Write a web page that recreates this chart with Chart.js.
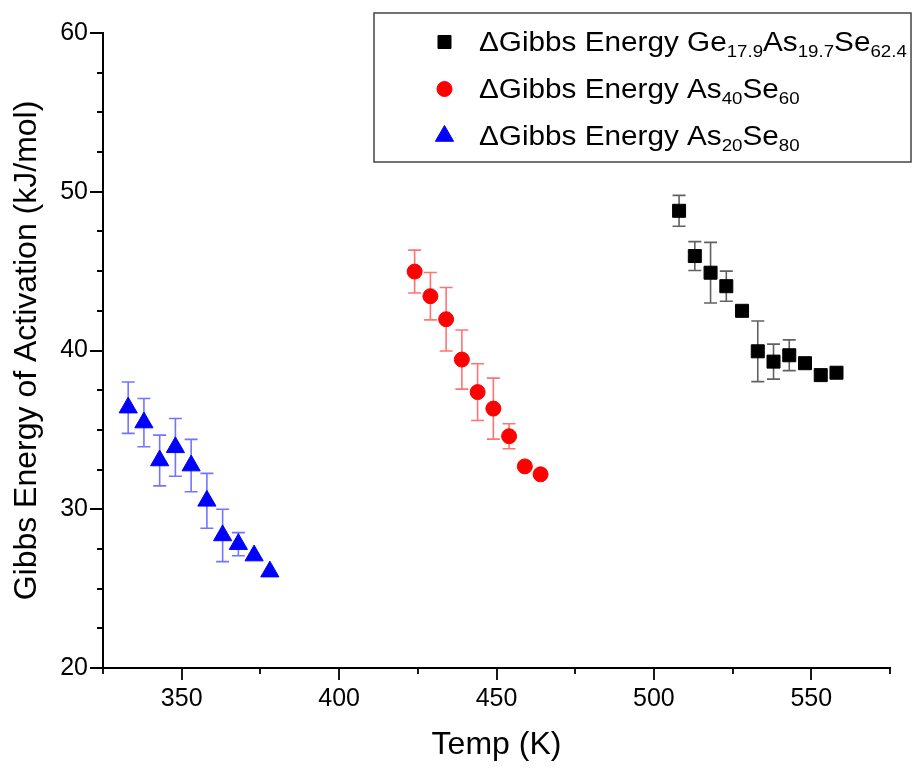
<!DOCTYPE html>
<html>
<head>
<meta charset="utf-8">
<script src="https://cdn.jsdelivr.net/npm/chart.js@4.4.1/dist/chart.umd.min.js"></script>
<style>
  html, body { margin: 0; padding: 0; background: #fff; }
  canvas { display: block; }
</style>
</head>
<body>
<canvas id="chart" width="915" height="769"></canvas>
<script>
// Temperatures (K), Gibbs energy of activation (kJ/mol) and its uncertainty for each glass
const tempsGe = [508, 513, 518, 523, 528, 533, 538, 543, 548, 553, 558];
const gibbsGe = [48.8, 45.95, 44.9, 44.05, 42.5, 39.95, 39.3, 39.7, 39.2, 38.45, 38.6];
const errGe   = [0.97, 0.91, 1.91, 0.95, null, 1.91, 1.1, 0.97, null, null, null];

const tempsAs40 = [424, 429, 434, 439, 444, 449, 454, 459, 464];
const gibbsAs40 = [44.97, 43.42, 41.97, 39.43, 37.38, 36.34, 34.6, 32.7, 32.2];
const errAs40   = [1.35, 1.49, 2.0, 1.86, 1.79, 1.92, 0.79, null, null];

const tempsAs20 = [333, 338, 343, 348, 353, 358, 363, 368, 373, 378];
const gibbsAs20 = [36.4, 35.46, 33.07, 33.9, 32.75, 30.53, 28.35, 27.8, 27.08, 26.07];
const errAs20   = [1.62, 1.52, 1.6, 1.82, 1.65, 1.73, 1.65, 0.73, null, null];

// Legend labels, split into [text, isSubscript] runs
const labelGe   = [['\u0394Gibbs Energy Ge', 0], ['17.9', 1], ['As', 0], ['19.7', 1], ['Se', 0], ['62.4', 1]];
const labelAs40 = [['\u0394Gibbs Energy As', 0], ['40', 1], ['Se', 0], ['60', 1]];
const labelAs20 = [['\u0394Gibbs Energy As', 0], ['20', 1], ['Se', 0], ['80', 1]];

const xTitle = 'Temp (K)';
const yTitle = 'Gibbs Energy of Activation (kJ/mol)';

const FONT = '"Liberation Sans", Arial, Helvetica, sans-serif';

function points(xs, ys) {
  return xs.map((x, i) => ({ x: x, y: ys[i] }));
}

const series = [
  { label: labelGe, data: points(tempsGe, gibbsGe), err: errGe,
    color: '#000000', barColor: 'rgba(0,0,0,0.62)', style: 'rect', radius: 9.2 },
  { label: labelAs40, data: points(tempsAs40, gibbsAs40), err: errAs40,
    color: '#ff0000', barColor: 'rgba(255,0,0,0.55)', style: 'circle', radius: 7.5 },
  { label: labelAs20, data: points(tempsAs20, gibbsAs20), err: errAs20,
    color: '#0000ff', barColor: 'rgba(0,0,255,0.55)', style: 'triangle', radius: 10.5 }
];

// Vertical error bars with caps, drawn beneath the markers
const errorBars = {
  id: 'errorBars',
  beforeDatasetsDraw(chart) {
    const ctx = chart.ctx;
    const xs = chart.scales.x, ys = chart.scales.y;
    ctx.save();
    chart.data.datasets.forEach((ds, i) => {
      const s = series[i];
      ctx.strokeStyle = s.barColor;
      ctx.lineWidth = 1.6;
      ds.data.forEach((p, j) => {
        const e = s.err[j];
        if (e == null) return;
        const px = xs.getPixelForValue(p.x);
        const top = ys.getPixelForValue(p.y + e);
        const bot = ys.getPixelForValue(p.y - e);
        const cap = 6.5;
        ctx.beginPath();
        ctx.moveTo(px, top); ctx.lineTo(px, bot);
        ctx.moveTo(px - cap, top); ctx.lineTo(px + cap, top);
        ctx.moveTo(px - cap, bot); ctx.lineTo(px + cap, bot);
        ctx.stroke();
      });
    });
    ctx.restore();
  }
};

// Outward major and minor tick marks on both axes
const axisTicks = {
  id: 'axisTicks',
  afterDraw(chart) {
    const ctx = chart.ctx;
    const xs = chart.scales.x, ys = chart.scales.y;
    const area = chart.chartArea;
    ctx.save();
    ctx.strokeStyle = '#000';
    ctx.lineWidth = 1.8;
    ctx.beginPath();
    for (let v = xs.min; v <= xs.max + 1e-9; v += 25) {
      const px = Math.round(xs.getPixelForValue(v));
      const len = (v % 50 === 0) ? 12 : 6;
      ctx.moveTo(px, area.bottom); ctx.lineTo(px, area.bottom + len);
    }
    for (let v = ys.min; v <= ys.max + 1e-9; v += 2.5) {
      const py = Math.round(ys.getPixelForValue(v));
      const len = (v % 10 === 0) ? 13 : 6;
      ctx.moveTo(area.left, py); ctx.lineTo(area.left - len, py);
    }
    ctx.stroke();
    ctx.restore();
  }
};

// Boxed legend with chemical subscripts
const formulaLegend = {
  id: 'formulaLegend',
  afterDraw(chart) {
    const ctx = chart.ctx;
    const box = { left: 374, top: 13, right: 911, bottom: 162 };
    const size = 27, subSize = 17, subDrop = 6, stretch = 1.1;
    const rowY = [42, 89, 136];
    const markX = 444.5, textX = 479;
    ctx.save();
    ctx.fillStyle = '#fff';
    ctx.fillRect(box.left, box.top, box.right - box.left, box.bottom - box.top);
    ctx.strokeStyle = '#444';
    ctx.lineWidth = 1.5;
    ctx.strokeRect(box.left, box.top, box.right - box.left, box.bottom - box.top);
    series.forEach((s, i) => {
      const y = rowY[i];
      ctx.fillStyle = s.color;
      ctx.strokeStyle = s.color;
      ctx.lineWidth = 1;
      Chart.helpers.drawPoint(ctx, { pointStyle: s.style, radius: s.radius, borderWidth: 1 }, markX, y);
      let x = 0;
      const base = y + 9;
      ctx.save();
      ctx.translate(textX, 0);
      ctx.scale(stretch, 1);
      ctx.fillStyle = '#000';
      ctx.textBaseline = 'alphabetic';
      s.label.forEach(([txt, sub]) => {
        ctx.font = (sub ? subSize : size) + 'px ' + FONT;
        ctx.fillText(txt, x, sub ? base + subDrop : base);
        x += ctx.measureText(txt).width;
      });
      ctx.restore();
    });
    ctx.restore();
  }
};

new Chart(document.getElementById('chart'), {
  type: 'scatter',
  data: {
    datasets: series.map(s => ({
      data: s.data,
      pointStyle: s.style,
      pointRadius: s.radius,
      pointHoverRadius: s.radius,
      pointBackgroundColor: s.color,
      pointBorderColor: s.color,
      pointBorderWidth: 1,
      showLine: false
    }))
  },
  options: {
    responsive: false,
    animation: false,
    devicePixelRatio: 1,
    layout: { padding: { top: 33, right: 25, bottom: 0, left: 0 } },
    plugins: { legend: { display: false }, tooltip: { enabled: false } },
    scales: {
      x: {
        type: 'linear',
        min: 325, max: 575,
        afterFit(scale) { scale.height = 101; },
        grid: { display: false, drawTicks: false },
        border: { display: true, color: '#000', width: 2 },
        ticks: {
          stepSize: 25,
          padding: 16,
          color: '#000',
          font: { family: FONT, size: 25 },
          maxRotation: 0,
          autoSkip: false,
          callback: v => (v % 50 === 0 ? String(v) : '')
        },
        title: {
          display: true, text: xTitle, color: '#000',
          font: { family: FONT, size: 32 },
          padding: { top: 0, bottom: 5 }
        }
      },
      y: {
        type: 'linear',
        min: 20, max: 60,
        afterFit(scale) { scale.width = 103; },
        grid: { display: false, drawTicks: false },
        border: { display: true, color: '#000', width: 2 },
        ticks: {
          stepSize: 10,
          padding: 15,
          color: '#000',
          font: { family: FONT, size: 25 }
        },
        title: {
          display: true, text: yTitle, color: '#000',
          font: { family: FONT, size: 32 },
          padding: { top: 8, bottom: 0 }
        }
      }
    }
  },
  plugins: [errorBars, axisTicks, formulaLegend]
});
</script>
</body>
</html>
